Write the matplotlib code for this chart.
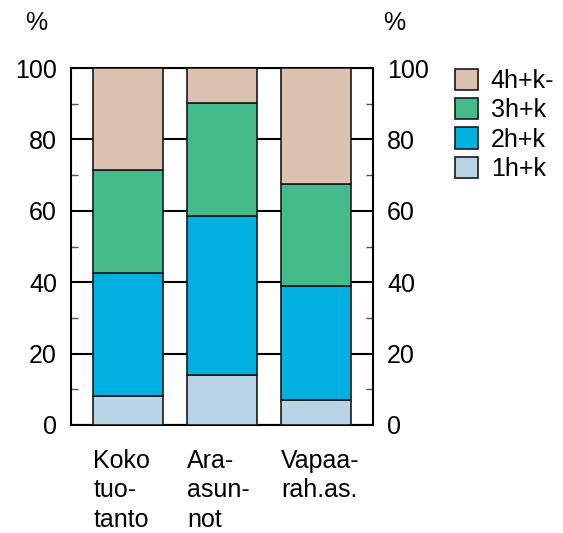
import numpy as np
import matplotlib.pyplot as plt

plt.rcParams['font.family'] = ['Liberation Sans', 'DejaVu Sans']

categories = ["Koko\ntuo-\ntanto", "Ara-\nasun-\nnot", "Vapaa-\nrah.as."]
series = ["1h+k", "2h+k", "3h+k", "4h+k-"]
h1 = [8.2, 14.0, 7.0]
h2 = [34.3, 44.5, 32.0]
h3 = [28.9, 31.7, 28.5]
h4 = [28.6, 9.8, 32.5]
colors = ["#b8d4e6", "#00b0e0", "#45bb8c", "#dcc0b0"]

fs = 18

fig = plt.figure(figsize=(5.63, 5.33), dpi=100)
ax = fig.add_axes([71 / 563, 108 / 533, 302 / 563, 357 / 533])

x = np.arange(len(categories))
w = 0.745
bottom = np.zeros(len(categories))
handles = []
for vals, col, name in zip([h1, h2, h3, h4], colors, series):
    b = ax.bar(x, vals, w, bottom=bottom, color=col, edgecolor="#1a1a1a",
               linewidth=1.2, label=name, zorder=3)
    handles.append(b)
    bottom += np.array(vals)

ax.set_xlim(-0.61, 2.61)
ax.set_ylim(0, 100)
ax.set_yticks(range(0, 101, 20))
ax.set_yticks(range(10, 100, 20), minor=True)
ax.yaxis.grid(True, which="major", color="black", linewidth=1.5, zorder=0)
ax.set_axisbelow(True)
ax.tick_params(axis="y", which="major", length=0, labelsize=fs, pad=10,
               labelright=True, right=True)
ax.tick_params(axis="y", which="minor", direction="in", length=5, width=1,
               right=True, colors="#555555")
ax.set_xticks([])
for s in ax.spines.values():
    s.set_linewidth(1.5)

for i, lab in enumerate(categories):
    ax.text(i - w / 2, -0.066, lab, transform=ax.get_xaxis_transform(),
            ha="left", va="top", fontsize=fs, linespacing=1.3)

fig.text(36 / 563, 1 - 23 / 533, "%", fontsize=fs, ha="center", va="center")
fig.text(394 / 563, 1 - 23 / 533, "%", fontsize=fs, ha="center", va="center")

leg = fig.legend(handles[::-1], series[::-1], loc="upper left",
                 bbox_to_anchor=(437 / 563, 1 - 51 / 533), frameon=False,
                 fontsize=fs, handlelength=0.95, handleheight=0.95,
                 handletextpad=0.5, labelspacing=0.2, borderpad=0.2)

fig.savefig("out.png", dpi=100)
